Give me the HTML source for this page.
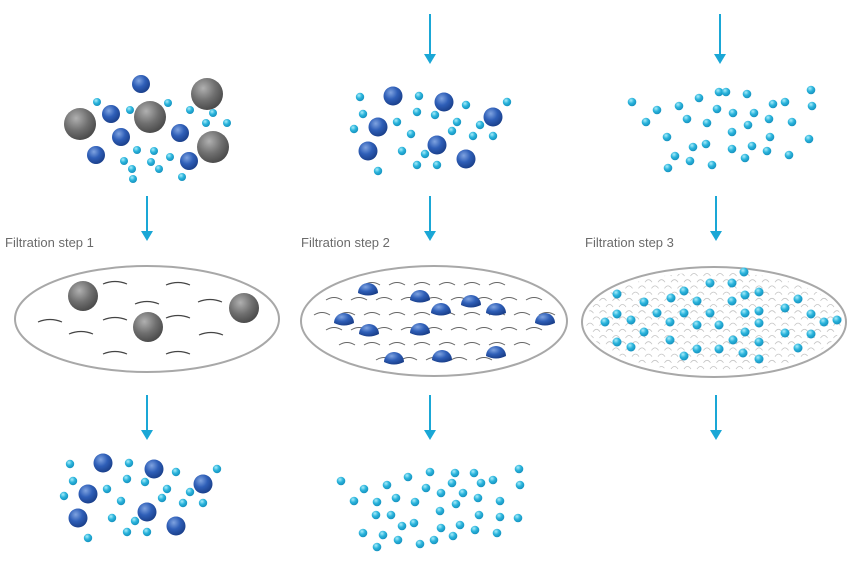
<!DOCTYPE html>
<html><head><meta charset="utf-8"><style>
html,body{margin:0;padding:0;background:#fff;}
svg{display:block}
text{font-family:"Liberation Sans",sans-serif;font-size:13px;fill:#6b6b6b}
</style></head><body>
<svg id="s" width="850" height="564" viewBox="0 0 850 564" xmlns="http://www.w3.org/2000/svg">
<defs>
<radialGradient id="gb" cx="0.38" cy="0.32" r="0.7"><stop offset="0" stop-color="#7fa3e0"/><stop offset="0.5" stop-color="#2f5fb8"/><stop offset="1" stop-color="#1a3f8a"/></radialGradient>
<radialGradient id="gc" cx="0.38" cy="0.32" r="0.7"><stop offset="0" stop-color="#a8ecfa"/><stop offset="0.5" stop-color="#2ab4dc"/><stop offset="1" stop-color="#1590bd"/></radialGradient>
<radialGradient id="gg" cx="0.38" cy="0.32" r="0.7"><stop offset="0" stop-color="#b0b0b0"/><stop offset="0.55" stop-color="#707070"/><stop offset="1" stop-color="#4a4a4a"/></radialGradient>
<clipPath id="c3"><ellipse cx="714" cy="322" rx="128" ry="50"/></clipPath>
</defs>
<text x="5" y="247">Filtration step 1</text>
<text x="301" y="247">Filtration step 2</text>
<text x="585" y="247">Filtration step 3</text>
<g id="g"></g>
</svg>
<script>
var g=document.getElementById('g'),h='';
function C(x,y,r,f){h+='<circle cx="'+x+'" cy="'+y+'" r="'+r+'" fill="url(#'+f+')"/>';}
function A(x,y1,y2){h+='<line x1="'+x+'" y1="'+y1+'" x2="'+x+'" y2="'+(y2-8)+'" stroke="#1aa7d6" stroke-width="2"/><polygon points="'+(x-6)+','+(y2-10)+' '+(x+6)+','+(y2-10)+' '+x+','+y2+'" fill="#1aa7d6"/>';}
A(147,196,241);A(430,14,64);A(430,196,241);A(430,395,440);A(720,14,64);A(716,196,241);A(716,395,440);A(147,395,440);
h+='<ellipse cx="147" cy="319" rx="132" ry="53" fill="none" stroke="#a8a8a8" stroke-width="2"/>';
h+='<ellipse cx="434" cy="321" rx="133" ry="55" fill="none" stroke="#a8a8a8" stroke-width="2"/>';
h+='<ellipse cx="714" cy="322" rx="132" ry="55" fill="none" stroke="#a8a8a8" stroke-width="2"/>';
function arc(x,y,w,c,sw){h+='<path d="M'+(x-w/2)+','+(y+2)+' Q'+x+','+(y-3)+' '+(x+w/2)+','+(y+2)+'" fill="none" stroke="'+c+'" stroke-width="'+sw+'"/>';}
[[115,282],[178,283],[50,320],[115,318],[178,316],[147,302],[210,300],[81,332],[211,333],[115,352],[178,352]].forEach(function(p){arc(p[0],p[1],24,'#444',1.2);});
for(var r=0;r<6;r++){for(var c=0;c<10;c++){var x=322+c*25+(r%2?12:0),y=283+r*15;var dx=(x-434)/122,dy=(y-321)/46;if(dx*dx+dy*dy<1)arc(x,y,16,'#666',1);}}
h+='<g clip-path="url(#c3)">';
for(var r=0;r<17;r++){for(var c=0;c<21;c++){arc(590+c*13+(r%2?6.5:0),274+r*6.2,7,'#c4c4c4',0.8);}}
h+='</g>';
function dome(x,y,r,f){h+='<path d="M'+(x-r)+','+y+' A'+r+','+r+' 0 0 1 '+(x+r)+','+y+' Q'+x+','+(y+r*0.5)+' '+(x-r)+','+y+'Z" fill="url(#'+f+')"/>';}
[[83,296],[148,327],[244,308]].forEach(function(p){C(p[0],p[1],15,'gg');});
[[368,293],[420,300],[471,305],[441,313],[496,313],[344,323],[545,323],[369,334],[420,333],[442,360],[496,356],[394,362]].forEach(function(p){dome(p[0],p[1],10,'gb');});
[[744,272],[710,283],[732,283],[617,294],[684,291],[745,295],[759,292],[644,302],[671,298],[697,301],[732,301],[798,299],[785,308],[617,314],[657,313],[684,313],[710,313],[745,313],[759,311],[811,314],[605,322],[631,320],[670,322],[697,325],[719,325],[759,323],[824,322],[837,320],[644,332],[745,332],[785,333],[811,334],[617,342],[670,340],[733,340],[759,342],[631,347],[697,349],[719,349],[743,353],[798,348],[684,356],[759,359]].forEach(function(p){C(p[0],p[1],4.5,'gc');});
[[80,124],[150,117],[207,94],[213,147]].forEach(function(p){C(p[0],p[1],16,'gg');});
[[141,84],[111,114],[121,137],[180,133],[96,155],[189,161]].forEach(function(p){C(p[0],p[1],9,'gb');});
[[97,102],[130,110],[168,103],[190,110],[213,113],[206,123],[227,123],[137,150],[154,151],[124,161],[151,162],[170,157],[132,169],[159,169],[133,179],[182,177]].forEach(function(p){C(p[0],p[1],4,'gc');});
var B=[[53,21],[104,27],[38,52],[153,42],[28,76],[97,70],[126,84]];
var Cy=[[20,22],[79,21],[126,30],[167,27],[23,39],[77,37],[95,40],[57,47],[117,47],[140,50],[14,54],[71,59],[112,56],[133,61],[153,61],[62,76],[85,79],[77,90],[97,90],[38,96]];
[[340,75],[50,442]].forEach(function(o){B.forEach(function(p){C(o[0]+p[0],o[1]+p[1],9.5,'gb');});Cy.forEach(function(p){C(o[0]+p[0],o[1]+p[1],4.2,'gc');});});
[[22,22],[47,30],[36,42],[69,26],[89,18],[109,12],[116,12],[137,14],[201,10],[202,26],[175,22],[163,24],[107,29],[123,33],[144,33],[77,39],[97,43],[138,45],[159,39],[182,42],[57,57],[122,52],[160,57],[199,59],[83,67],[96,64],[122,69],[142,66],[157,71],[179,75],[65,76],[80,81],[135,78],[102,85],[58,88]].forEach(function(p){C(610+p[0],80+p[1],4.3,'gc');});
[[341,481],[364,489],[387,485],[408,477],[430,472],[455,473],[474,473],[519,469],[354,501],[377,502],[396,498],[415,502],[426,488],[441,493],[452,483],[463,493],[481,483],[493,480],[520,485],[456,504],[478,498],[500,501],[376,515],[391,515],[440,511],[479,515],[500,517],[518,518],[402,526],[414,523],[441,528],[460,525],[475,530],[497,533],[363,533],[383,535],[398,540],[420,544],[434,540],[453,536],[377,547]].forEach(function(p){C(p[0],p[1],4.3,'gc');});
g.innerHTML=h;
</script>
</body></html>
